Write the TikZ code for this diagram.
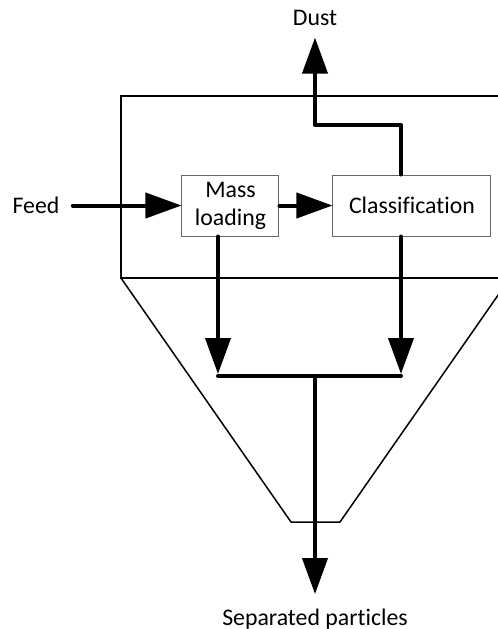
\documentclass[tikz,border=0pt]{standalone}
\usepackage{fontspec}
\setmainfont{Carlito}[Ligatures=NoCommon]
\usetikzlibrary{arrows.meta}

\begin{document}
\begin{tikzpicture}[
      x=0.5pt, y=-0.5pt,
      font=\fontsize{11.9}{14}\selectfont,
      stage/.style={
          rectangle,
          draw=black!60,
          line width=0.5pt,
          align=center,
          minimum height=30.5pt,
          inner sep=0pt,
          fill=white
        },
      streamtext/.style={
          inner sep=0pt,
          anchor=base
        },
      housing/.style={
          line width=0.75pt,
          line join=miter
        },
      flow/.style={
          -{Triangle[length=18pt,width=12.5pt]},
          line width=2pt,
          line cap=round,
          line join=round
        },
      bar/.style={
          line width=2pt,
          line cap=round
        }
    ]

    \clip (0,0) rectangle (498,629);

    % Housing
    \draw[housing] (121,96) rectangle (510,278);
    \draw[housing] (121,278) -- (291,522) -- (340,522) -- (510,278);

    % Nodes
    \node[stage, minimum width=48.5pt] (mass) at (230.5,205.5) {Mass\\loading};
    \node[stage, minimum width=79pt] (class) at (412,205.5) {Classification};
    \node[streamtext] (feed) at (36,213) {Feed};
    \node[streamtext] (dust) at (315,25) {Dust};
    \node[streamtext] (sep) at (315,625) {Separated particles};

    \coordinate (dustbend) at (315,125);
    \coordinate (joinL) at (218,376);
    \coordinate (joinR) at (401,376);
    \coordinate (joinC) at (315,376);

    % Arrows
    \draw[flow, shorten <=6.5pt] (feed.east |- mass.west) -- (mass.west);
    \draw[flow] (mass) -- (class);
    \draw[flow, shorten >=6pt] (class.north -| joinR) |- (dustbend) -- (dust.south);
    \draw[flow, shorten >=1pt] (mass.south -| joinL) -- (joinL);
    \draw[flow, shorten >=1pt] (class.south -| joinR) -- (joinR);
    \draw[bar] (joinL) -- (joinR);
    \draw[flow, shorten >=7pt] (joinC) -- (sep.north);

  \end{tikzpicture}
\end{document}
